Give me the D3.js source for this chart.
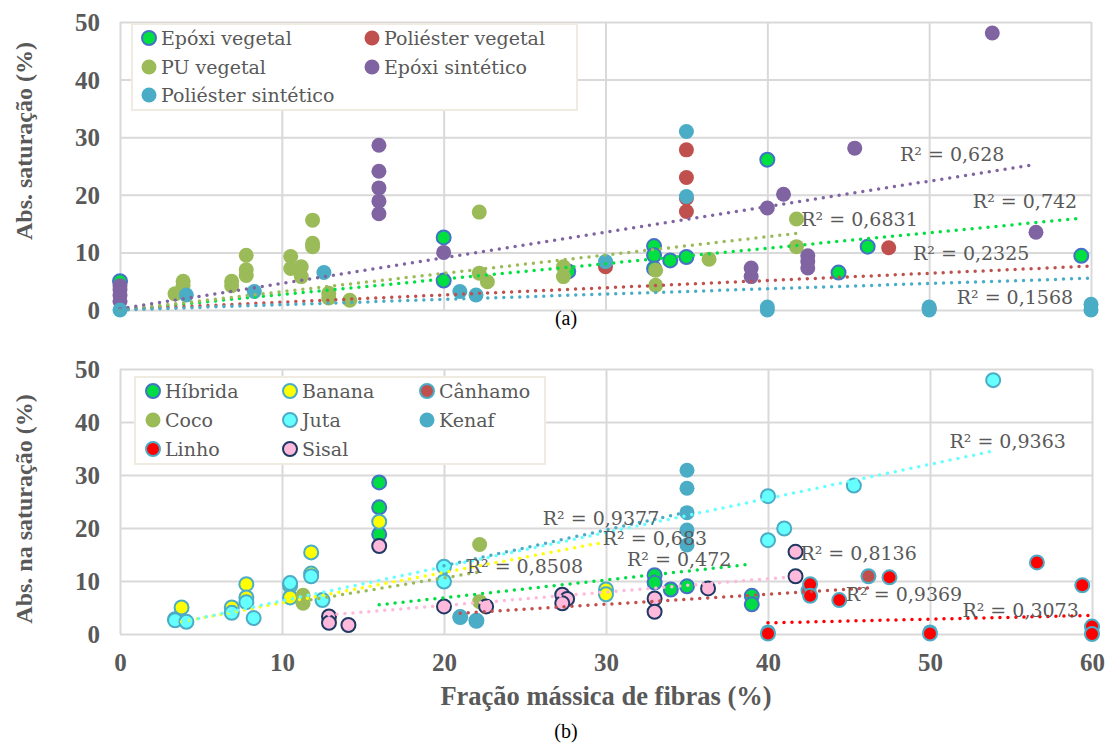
<!DOCTYPE html>
<html>
<head>
<meta charset="utf-8">
<script src="https://cdn.jsdelivr.net/npm/d3@7"></script>
<style>
  body { margin: 0; background: #fff; }
  svg { display: block; }
</style>
</head>
<body>
<svg id="chart" width="1107" height="743"></svg>
<script>
// Data: [fiber mass fraction %, absorption at saturation %]

// (a) by resin
var epoxiVegetal = [[0, 5], [20, 12.6], [20, 5.1], [27.7, 6.7], [33, 11.1], [33, 9.5], [33, 7.2],
  [34, 8.6], [35, 9.2], [40, 26.1], [44.4, 6.5], [46.2, 11], [59.4, 9.4]];
var poliesterVegetal = [[30, 7.5], [35, 27.8], [35, 23], [35, 19.4], [35, 17.1], [47.5, 10.8], [50, 0.3]];
var puVegetal = [[3.4, 2.8], [3.9, 4.3], [3.9, 5], [6.9, 4.2], [6.9, 5], [7.8, 9.5], [7.8, 7], [7.8, 6],
  [10.55, 9.3], [10.55, 7.2], [11.2, 7.5], [11.2, 5.8], [11.9, 15.6], [11.9, 11.6], [11.9, 11],
  [12.9, 2.9], [12.9, 2.1], [14.2, 1.7], [22.2, 17], [22.2, 6.4], [22.7, 4.9], [27.4, 7.5], [27.4, 5.8],
  [33.1, 6.9], [33.1, 4.3], [36.4, 8.8], [41.8, 15.8], [41.8, 11]];
var epoxiSintetico = [[0, 1.5], [0, 2.5], [0, 3.5], [0, 4.2], [16, 28.6], [16, 24.1], [16, 21.2], [16, 18.9],
  [16, 16.7], [20, 10], [39, 7.3], [39, 5.8], [40, 17.7], [41, 20.1], [42.5, 9.4], [42.5, 8.4], [42.5, 7.3],
  [45.4, 28.1], [53.9, 48.1], [56.6, 13.5]];
var poliesterSintetico = [[0, 0], [4.1, 2.6], [8.3, 3.2], [12.6, 6.5], [21, 3.2], [22, 2.6], [30, 8.4],
  [35, 31], [35, 19.7], [40, 0.5], [40, 0], [50, 0.5], [50, 0], [60, 1], [60, 0]];

// (b) by fiber
var hibrida = [[16, 28.6], [16, 23.9], [16, 18.8], [33, 11.1], [33, 9.7], [34, 8.4], [35, 9], [39, 7.2], [39, 5.6]];
var banana = [[3.4, 2.8], [3.8, 5], [6.9, 5], [7.8, 9.4], [7.8, 6.9], [10.5, 9.1], [10.5, 6.9],
  [11.8, 15.4], [11.8, 11.4], [16, 21.2], [30, 8.4], [30, 7.5]];
var canhamo = [[21, 3.2], [22, 2.5], [42.5, 8.2], [46.2, 10.9]];
var coco = [[11.3, 7.3], [11.3, 5.8], [22.2, 16.9], [22.2, 6.1]];
var juta = [[3.4, 2.6], [4.1, 2.3], [6.9, 4], [7.8, 6], [8.25, 3], [10.5, 9.6], [11.8, 10.9], [12.5, 6.4],
  [20, 12.7], [20, 9.9], [40, 26], [40, 17.7], [41, 19.9], [45.3, 28], [53.9, 47.9]];
var kenaf = [[21, 3.2], [22, 2.5], [35, 30.9], [35, 27.5], [35, 22.9], [35, 19.6], [35, 16.8],
  [40, 0.4], [50, 0.4], [60, 1.2], [60, 0.3]];
var linho = [[40, 0.1], [42.6, 9.4], [42.6, 7.2], [44.4, 6.4], [47.5, 10.7], [50, 0.1], [56.6, 13.5],
  [59.4, 9.2], [60, 1.4], [60, 0]];
var sisal = [[12.9, 3.3], [12.9, 2.1], [14.1, 1.7], [16, 16.6], [20, 5.2], [22.6, 5.2], [27.3, 7.4],
  [27.6, 6.6], [27.3, 5.8], [33, 6.7], [33, 4.2], [36.3, 8.6], [41.7, 15.5], [41.7, 10.9]];

// trendline end points [x0, y0, x1, y1] as drawn in the picture
var trendTop = {
  "Epóxi vegetal": [0, 0, 59.3, 15.9],
  "Poliéster vegetal": [0, 0.1, 59.8, 7.6],
  "PU vegetal": [0, 0, 41.8, 13.3],
  "Epóxi sintético": [0, 0.2, 56.6, 25.3],
  "Poliéster sintético": [0, 0, 59.8, 5.5]
};
var trendBottom = {
  "Híbrida": [16, 5.5, 39, 13.2],
  "Banana": [3.8, 2.3, 29.7, 17.2],
  "Cânhamo": [21, 3.9, 46.2, 8.7],
  "Coco": [11.3, 6.2, 22.2, 11.7],
  "Juta": [3.4, 2.0, 53.7, 34.4],
  "Kenaf": [20, 12.9, 35, 23],
  "Linho": [40, 2.1, 60, 3.5],
  "Sisal": [12.9, 3.6, 41.5, 10.8]
};

var r2Top = [["0,628", 48.2, 27.1], ["0,742", 52.7, 18.8], ["0,6831", 42.1, 15.7],
  ["0,2325", 49.0, 9.8], ["0,1568", 51.7, 2.2]];
var r2Bottom = [["0,9377", 26.1, 21.8], ["0,683", 29.8, 18.1], ["0,472", 31.3, 14.0],
  ["0,8508", 21.4, 12.7], ["0,9363", 51.2, 36.3], ["0,8136", 42.0, 15.3],
  ["0,9369", 44.8, 7.4], ["0,3073", 52.0, 4.5]];

var yTicks = [0, 10, 20, 30, 40, 50];
var xTicks = [0, 10, 20, 30, 40, 50, 60];

// styles
var seriesTop = [
  { name: "Epóxi vegetal", data: epoxiVegetal, fill: "#00e040", stroke: "#4472c4", trend: "#00e040" },
  { name: "Poliéster vegetal", data: poliesterVegetal, fill: "#c0504d", stroke: null, trend: "#c0504d" },
  { name: "PU vegetal", data: puVegetal, fill: "#9bbb59", stroke: null, trend: "#9bbb59" },
  { name: "Epóxi sintético", data: epoxiSintetico, fill: "#8064a2", stroke: null, trend: "#8064a2" },
  { name: "Poliéster sintético", data: poliesterSintetico, fill: "#4bacc6", stroke: null, trend: "#4bacc6" }
];
var seriesBottom = [
  { name: "Híbrida", data: hibrida, fill: "#00dd44", stroke: "#4472c4", trend: "#00dd44" },
  { name: "Banana", data: banana, fill: "#ffff00", stroke: "#4bacc6", trend: "#ffff00" },
  { name: "Cânhamo", data: canhamo, fill: "#c0504d", stroke: "#4bacc6", trend: "#c0504d" },
  { name: "Coco", data: coco, fill: "#9bbb59", stroke: null, trend: "#9bbb59" },
  { name: "Juta", data: juta, fill: "#66ffff", stroke: "#4bacc6", trend: "#66ffff" },
  { name: "Kenaf", data: kenaf, fill: "#4bacc6", stroke: null, trend: "#4bacc6" },
  { name: "Linho", data: linho, fill: "#ff0000", stroke: "#4bacc6", trend: "#ff0000" },
  { name: "Sisal", data: sisal, fill: "#ffb9da", stroke: "#1f3864", trend: "#ffb9da" }
];

var svg = d3.select("#chart");
var tickFont = "'Liberation Serif', 'Times New Roman', serif";
var labelFont = "'DejaVu Serif', serif";
var grey = "#595959";

function drawPanel (cfg)
{
  let x = d3.scaleLinear().domain([0, 60]).range([cfg.left, cfg.right]);
  let y = d3.scaleLinear().domain([0, 50]).range([cfg.bottom, cfg.top]);
  let g = svg.append("g");

  // vertical grid (+ x labels on the lower panel)
  let xAxis = d3.axisBottom(x).tickValues(xTicks)
    .tickSize(-(cfg.bottom - cfg.top)).tickPadding(19);
  if (!cfg.xLabels) xAxis.tickFormat("");
  let gx = g.append("g").attr("transform", "translate(0," + cfg.bottom + ")").call(xAxis);

  let yAxis = d3.axisLeft(y).tickValues(yTicks)
    .tickSize(-(cfg.right - cfg.left)).tickPadding(20);
  let gy = g.append("g").attr("transform", "translate(" + cfg.left + ",0)").call(yAxis);

  [gx, gy].forEach(function (a) {
    a.select(".domain").remove();
    a.selectAll("line").attr("stroke", "#d9d9d9").attr("stroke-width", 2);
    a.selectAll("text").attr("fill", grey).attr("font-family", tickFont)
      .attr("font-weight", "bold").attr("font-size", 25);
  });
  gy.selectAll("text").attr("dy", "0.34em");

  // markers
  cfg.series.forEach(function (s) {
    g.append("g").selectAll("circle").data(s.data).join("circle")
      .attr("cx", d => x(d[0]))
      .attr("cy", d => y(d[1]))
      .attr("r", s.stroke ? 7 : 7.5)
      .attr("fill", s.fill)
      .attr("stroke", s.stroke || "none")
      .attr("stroke-width", 2);
  });

  // dotted trendlines
  cfg.series.forEach(function (s) {
    let t = cfg.trend[s.name];
    g.append("line")
      .attr("x1", x(t[0])).attr("y1", y(t[1]))
      .attr("x2", x(t[2])).attr("y2", y(t[3]))
      .attr("stroke", s.trend)
      .attr("stroke-width", 3.5)
      .attr("stroke-linecap", "round")
      .attr("stroke-dasharray", "0,8");
  });

  // R² labels
  g.append("g").selectAll("text").data(cfg.r2).join("text")
    .attr("x", d => x(d[1]))
    .attr("y", d => y(d[2]))
    .attr("dy", "0.35em")
    .attr("fill", grey)
    .attr("font-family", labelFont)
    .attr("font-size", 19)
    .text(d => "R² = " + d[0]);

  // legend
  let lg = g.append("g");
  lg.append("rect")
    .attr("x", cfg.legend.x).attr("y", cfg.legend.y)
    .attr("width", cfg.legend.w).attr("height", cfg.legend.h)
    .attr("fill", "#fff").attr("stroke", "#efebe0").attr("stroke-width", 2);
  cfg.series.forEach(function (s, i) {
    let col = i % cfg.legend.cols, row = Math.floor(i / cfg.legend.cols);
    let mx = cfg.legend.colX[col], my = cfg.legend.rowY[row];
    lg.append("circle").attr("cx", mx).attr("cy", my)
      .attr("r", s.stroke ? 7 : 7.5)
      .attr("fill", s.fill).attr("stroke", s.stroke || "none").attr("stroke-width", 2);
    lg.append("text").attr("x", mx + 12).attr("y", my).attr("dy", "0.35em")
      .attr("fill", grey).attr("font-family", labelFont).attr("font-size", 19)
      .text(s.name);
  });

  // y axis title
  g.append("text")
    .attr("transform", "translate(" + 32 + "," + cfg.titleY + ") rotate(-90)")
    .attr("text-anchor", "middle")
    .attr("fill", grey).attr("font-family", tickFont).attr("font-weight", "bold").attr("font-size", 24)
    .text(cfg.title);
}

drawPanel({
  left: 120, right: 1091, top: 22, bottom: 310,
  series: seriesTop, trend: trendTop, r2: r2Top, xLabels: false,
  title: "Abs. saturação (%)", titleY: 141,
  legend: { x: 132, y: 24, w: 445, h: 86, cols: 2, colX: [149, 372], rowY: [38, 67, 95] }
});

drawPanel({
  left: 120, right: 1092, top: 369, bottom: 634,
  series: seriesBottom, trend: trendBottom, r2: r2Bottom, xLabels: true,
  title: "Abs. na saturação (%)", titleY: 509,
  legend: { x: 135, y: 377, w: 410, h: 87, cols: 3, colX: [153, 290, 427], rowY: [391, 420, 449] }
});

svg.append("text").attr("x", 606).attr("y", 696).attr("dy", "0.35em").attr("text-anchor", "middle")
  .attr("fill", grey).attr("font-family", tickFont).attr("font-weight", "bold").attr("font-size", 26.5)
  .text("Fração mássica de fibras (%)");

svg.append("text").attr("x", 566).attr("y", 318).attr("dy", "0.35em").attr("text-anchor", "middle")
  .attr("fill", "#000").attr("font-family", tickFont).attr("font-size", 20).text("(a)");
svg.append("text").attr("x", 566).attr("y", 731).attr("dy", "0.35em").attr("text-anchor", "middle")
  .attr("fill", "#000").attr("font-family", tickFont).attr("font-size", 20).text("(b)");
</script>
</body>
</html>
